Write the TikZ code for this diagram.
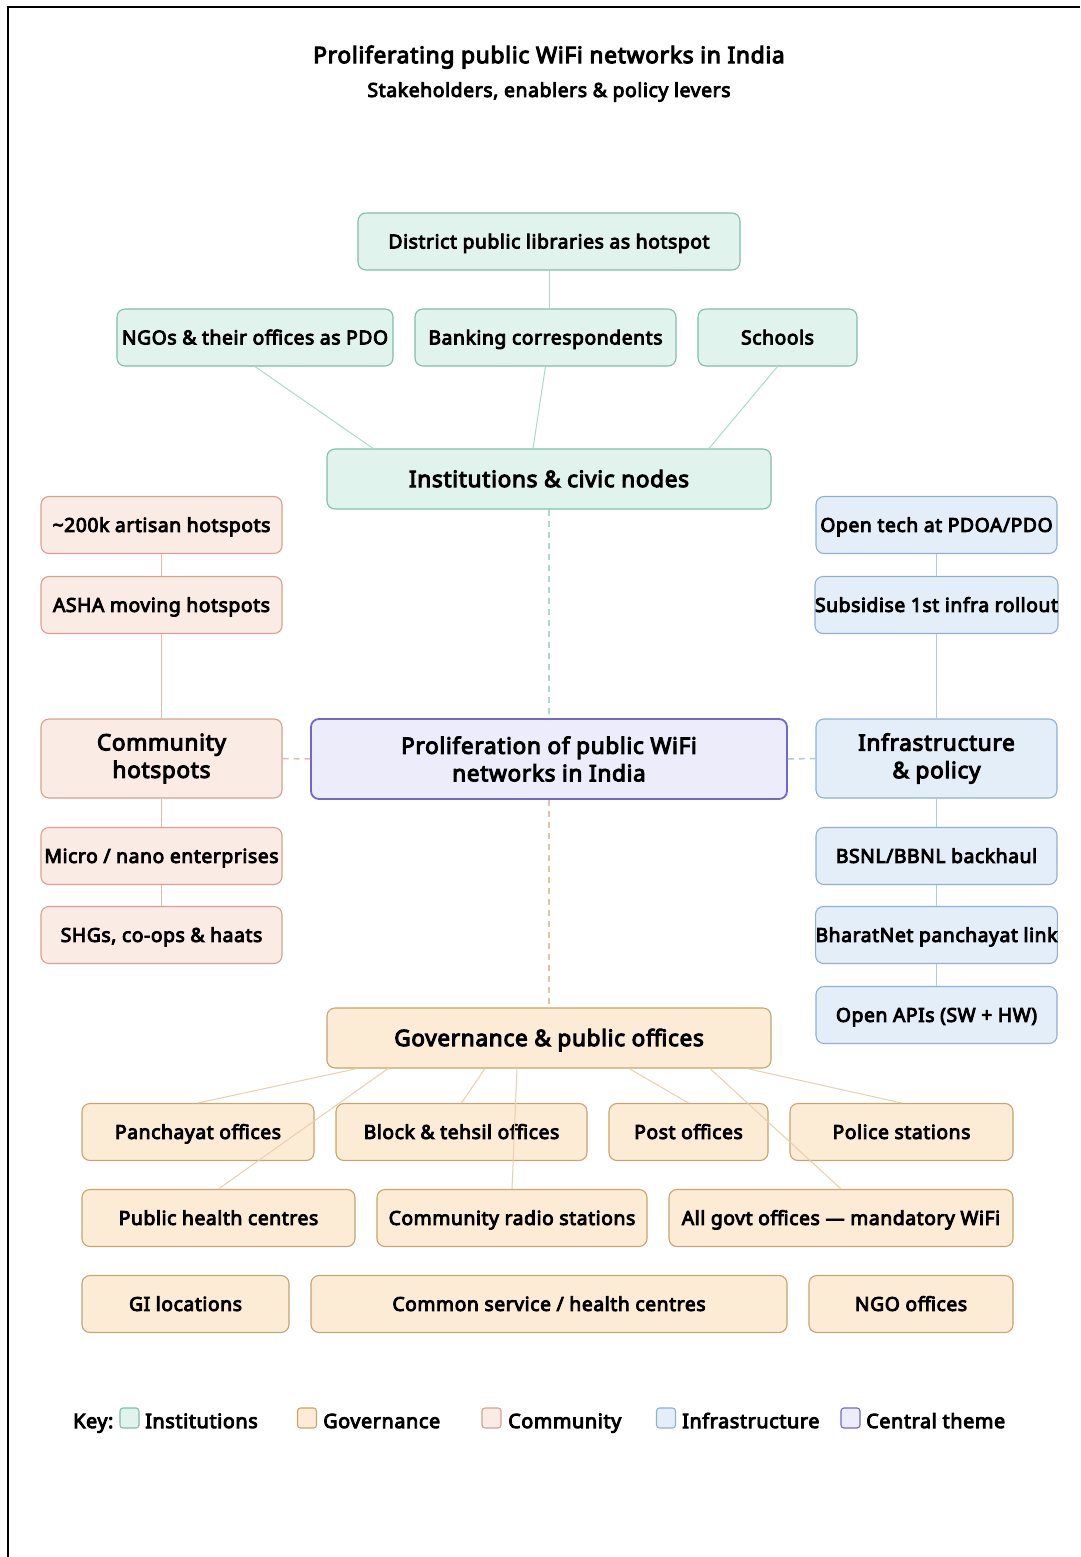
\documentclass[tikz,border=0pt]{standalone}
\usepackage{fontspec}
\setmainfont{Noto Sans}[AutoFakeBold=4.5, LetterSpace=3]
\definecolor{instF}{HTML}{E0F3EC}
\definecolor{instD}{HTML}{7EC0A8}
\definecolor{instL}{HTML}{ACDACA}
\definecolor{govF}{HTML}{FCEBD5}
\definecolor{govD}{HTML}{C9A46E}
\definecolor{govL}{HTML}{E8CFAE}
\definecolor{comF}{HTML}{FBEBE5}
\definecolor{comD}{HTML}{D9A090}
\definecolor{comL}{HTML}{E2BCB0}
\definecolor{infF}{HTML}{E4EEF9}
\definecolor{infD}{HTML}{8CB0D8}
\definecolor{infL}{HTML}{B3CAE2}
\definecolor{cenF}{HTML}{ECECFB}
\definecolor{cenD}{HTML}{7366CC}
\tikzset{
  box/.style={rectangle, rounded corners=8pt, line width=1.1pt, inner sep=0pt, align=center,
    font=\bfseries\fontsize{19.3}{23}\selectfont, minimum height=57pt},
  one/.style={text height=13.8pt, text depth=0pt},
  big/.style={font=\bfseries\fontsize{22.6}{27.5}\selectfont},
  bigone/.style={big, text height=16.1pt, text depth=0pt},
  inst/.style={box, fill=instF, draw=instD},
  gov/.style={box, fill=govF, draw=govD},
  com/.style={box, fill=comF, draw=comD},
  inf/.style={box, fill=infF, draw=infD},
  cen/.style={box, fill=cenF, draw=cenD, line width=1.8pt, big},
  iline/.style={draw=instL, line width=1pt},
  gline/.style={draw=govL, line width=1pt},
  cline/.style={draw=comL, line width=1pt},
  fline/.style={draw=infL, line width=1pt},
  dash5/.style={dash pattern=on 6pt off 5pt, line width=1.5pt},
  keysq/.style={rectangle, rounded corners=3pt, line width=1.1pt, minimum width=19pt, minimum height=20pt, inner sep=0pt},
  keytx/.style={anchor=west, inner sep=0pt, font=\bfseries\fontsize{19.8}{24}\selectfont, text height=14.1pt, text depth=0pt},
  ttl/.style={inner sep=0pt, font=\bfseries\fontsize{22.8}{28}\selectfont, text height=16.3pt, text depth=0pt},
  sub/.style={inner sep=0pt, font=\bfseries\fontsize{19.4}{24}\selectfont, text height=13.9pt, text depth=0pt}
}
\begin{document}
\begin{tikzpicture}[x=1pt,y=-1pt]
\useasboundingbox (0,0) rectangle (1080,1557);
\fill[white] (0,0) rectangle (1080,1557);
\draw[line width=2pt, black] (8,1557) -- (8,7) -- (1080,7);

\node[ttl] (title) at (549,55) {Proliferating public WiFi networks in India};
\node[sub] (subtitle) at (549,90) {Stakeholders, enablers \& policy levers};

% Institutions
\node[inst, one, minimum width=382pt] (lib) at (549,241.5) {District public libraries as hotspot};
\node[inst, one, minimum width=276pt] (ngo) at (255,337.5) {NGOs \& their offices as PDO};
\node[inst, one, minimum width=261pt] (bank) at (545.5,337.5) {Banking correspondents};
\node[inst, one, minimum width=159pt] (sch) at (777.5,337.5) {Schools};
\node[inst, bigone, minimum width=444pt, minimum height=60pt] (inst) at (549,479) {Institutions \& civic nodes};

% Central
\node[cen, minimum width=476pt, minimum height=80pt] (cen) at (549,759) {Proliferation of public WiFi\\networks in India};

% Community
\node[com, one, minimum width=241pt] (c1) at (161.5,525) {\textasciitilde200k artisan hotspots};
\node[com, one, minimum width=241pt] (c2) at (161.5,605) {ASHA moving hotspots};
\node[com, big, minimum width=241pt, minimum height=79pt] (comm) at (161.5,758.5) {Community\\hotspots};
\node[com, one, minimum width=241pt] (c3) at (161.5,856) {Micro / nano enterprises};
\node[com, one, minimum width=241pt] (c4) at (161.5,935) {SHGs, co-ops \& haats};

% Infrastructure
\node[inf, one, minimum width=241pt] (f1) at (936.5,525) {Open tech at PDOA/PDO};
\node[inf, one, minimum width=241pt] (f2) at (936.5,605) {Subsidise 1st infra rollout};
\node[inf, big, minimum width=241pt, minimum height=79pt] (infra) at (936.5,758.5) {Infrastructure\\\& policy};
\node[inf, one, minimum width=241pt] (f3) at (936.5,856) {BSNL/BBNL backhaul};
\node[inf, one, minimum width=241pt] (f4) at (936.5,935) {BharatNet panchayat link};
\node[inf, one, minimum width=241pt] (f5) at (936.5,1015) {Open APIs (SW + HW)};

% Governance
\node[gov, bigone, minimum width=444pt, minimum height=60pt] (gov) at (549,1038) {Governance \& public offices};
\node[gov, one, minimum width=232pt] (pan) at (198,1132) {Panchayat offices};
\node[gov, one, minimum width=251pt] (blk) at (461.5,1132) {Block \& tehsil offices};
\node[gov, one, minimum width=159pt] (post) at (688.5,1132) {Post offices};
\node[gov, one, minimum width=223pt] (pol) at (901.5,1132) {Police stations};
\node[gov, one, minimum width=273pt] (phc) at (218.5,1218) {Public health centres};
\node[gov, one, minimum width=270pt] (crs) at (512,1218) {Community radio stations};
\node[gov, one, minimum width=344pt] (allg) at (841,1218) {All govt offices --- mandatory WiFi};
\node[gov, one, minimum width=207pt] (gi) at (185.5,1304) {GI locations};
\node[gov, one, minimum width=476pt] (csc) at (549,1304) {Common service / health centres};
\node[gov, one, minimum width=204pt] (ngoo) at (911,1304) {NGO offices};

% Institution connectors
\draw[iline] (lib.south) -- (lib.south |- bank.north);
\draw[iline] (ngo.south) -- ([xshift=-176pt]inst.north);
\draw[iline] (bank.south) -- ([xshift=-16pt]inst.north);
\draw[iline] (sch.south) -- ([xshift=160pt]inst.north);

% Community connectors
\draw[cline] (c1) -- (c2);
\draw[cline] (c2) -- (comm);
\draw[cline] (comm) -- (c3);
\draw[cline] (c3) -- (c4);

% Infrastructure connectors
\draw[fline] (f1) -- (f2);
\draw[fline] (f2) -- (infra);
\draw[fline] (infra) -- (f3);
\draw[fline] (f3) -- (f4);
\draw[fline] (f4) -- (f5);

% Governance connectors
\draw[gline] ([xshift=-192pt]gov.south) -- (pan.north);
\draw[gline] ([xshift=-161pt]gov.south) -- (phc.north);
\draw[gline] ([xshift=-64pt]gov.south) -- (blk.north);
\draw[gline] ([xshift=-32pt]gov.south) -- (crs.north);
\draw[gline] ([xshift=80pt]gov.south) -- (post.north);
\draw[gline] ([xshift=161pt]gov.south) -- (allg.north);
\draw[gline] ([xshift=198pt]gov.south) -- (pol.north);

% Dashed links to centre
\draw[dash5, draw=instL] (inst.south) -- (cen.north);
\draw[dash5, draw=govL!80!govD] (cen.south) -- (gov.north);
\draw[dash5, draw=comL] (comm.east) -- (cen.west);
\draw[dash5, draw=infL] (cen.east) -- (infra.west);

% Key
\node[keytx] (keyl) at (73,1421) {Key:};
\node[keysq, fill=instF, draw=instD] (k1) at (129.5,1418) {};
\node[keytx] (k1t) at (145,1421) {Institutions};
\node[keysq, fill=govF, draw=govD] (k2) at (307,1418) {};
\node[keytx] (k2t) at (323,1421) {Governance};
\node[keysq, fill=comF, draw=comD] (k3) at (491.5,1418) {};
\node[keytx] (k3t) at (508,1421) {Community};
\node[keysq, fill=infF, draw=infD] (k4) at (666,1418) {};
\node[keytx] (k4t) at (682,1421) {Infrastructure};
\node[keysq, fill=cenF, draw=cenD] (k5) at (850.5,1418) {};
\node[keytx] (k5t) at (866,1421) {Central theme};
\end{tikzpicture}
\end{document}
